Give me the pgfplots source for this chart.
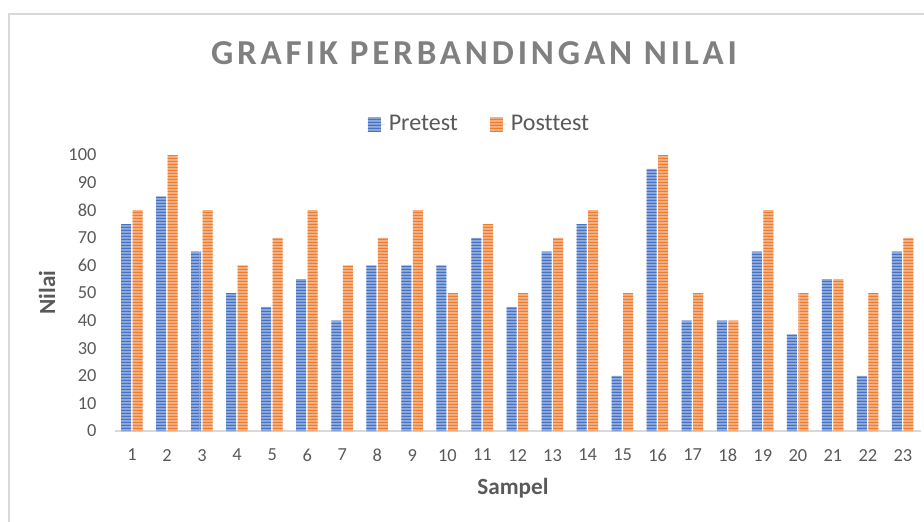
\documentclass[border=0pt]{standalone}
\usepackage{pgfplots}
\pgfplotsset{compat=1.18}
\usepackage{fontspec}
\setmainfont{Carlito}[Ligatures=NoCommon]
\newfontfamily\titlefont[LetterSpace=11,Ligatures=NoCommon]{Carlito Bold}
\usetikzlibrary{patterns}
\pgfdeclarepatternformonly{hstripes}{\pgfqpoint{0pt}{0pt}}{\pgfqpoint{100pt}{1.5pt}}{\pgfqpoint{100pt}{1.5pt}}{\pgfpathrectangle{\pgfqpoint{0pt}{0pt}}{\pgfqpoint{100pt}{0.75pt}}\pgfusepath{fill}}
\definecolor{exblue}{HTML}{4472C4}
\definecolor{exorange}{HTML}{ED7D31}
\definecolor{txtgray}{HTML}{595959}
\definecolor{titlegray}{HTML}{808080}
\definecolor{linegray}{HTML}{D9D9D9}
\begin{document}
\begin{tikzpicture}
\useasboundingbox (0,0) rectangle (462pt,260.5pt);
\draw[linegray, line width=0.6pt] (4.5pt,-5pt) -- (4.5pt,253.5pt) -- (470pt,253.5pt);
\begin{axis}[
  at={(57.25pt,45pt)}, anchor=south west,
  scale only axis, width=403pt, height=138pt,
  xmin=0.5, xmax=23.5, ymin=0, ymax=100,
  xtick={1,...,23}, ytick={0,10,...,100},
  axis x line*=bottom, axis y line*=left,
  y axis line style={draw=none},
  x axis line style={draw=linegray, line width=0.8pt},
  major tick length=0,
  /pgf/number format/assume math mode=true,
  tick label style={font=\fontsize{9.2}{11}\selectfont, text=txtgray},
  yticklabel style={xshift=-5.5pt},
  xticklabel style={yshift=-5.5pt},
  ybar, bar width=5pt,
  legend style={at={(0.4541,1.112)}, anchor=center, draw=none, fill=none,
    font=\fontsize{12}{14}\selectfont, text=txtgray,
    legend columns=2,
    /tikz/every even column/.append style={column sep=14pt}},
  legend image code/.code={\fill[#1] (0pt,-3.5pt) rectangle (6.5pt,3.5pt); \path (0pt,0pt) -- (8.5pt,0pt);},
  clip=false,
]
\addplot[draw=none, fill=exblue!60, postaction={pattern=hstripes, pattern color=exblue}, bar shift=-3pt]
coordinates {(1,75)(2,85)(3,65)(4,50)(5,45)(6,55)(7,40)(8,60)(9,60)(10,60)(11,70)(12,45)(13,65)(14,75)(15,20)(16,95)(17,40)(18,40)(19,65)(20,35)(21,55)(22,20)(23,65)};
\addplot[draw=none, fill=exorange!60, postaction={pattern=hstripes, pattern color=exorange}, bar shift=2.75pt]
coordinates {(1,80)(2,100)(3,80)(4,60)(5,70)(6,80)(7,60)(8,70)(9,80)(10,50)(11,75)(12,50)(13,70)(14,80)(15,50)(16,100)(17,50)(18,40)(19,80)(20,50)(21,55)(22,50)(23,70)};
\legend{Pretest, Posttest}
\end{axis}
\node[font=\titlefont\fontsize{17.5}{20}\selectfont, text=titlegray, anchor=center] at (237pt,234pt) {GRAFIK PERBANDINGAN NILAI};
\node[font=\bfseries\fontsize{11.6}{13}\selectfont, text=txtgray, anchor=base] at (256.5pt,13.5pt) {Sampel};
\node[font=\bfseries\fontsize{11.6}{13}\selectfont, text=txtgray, anchor=base, rotate=90] at (27.5pt,114.25pt) {Nilai};
\end{tikzpicture}
\end{document}
